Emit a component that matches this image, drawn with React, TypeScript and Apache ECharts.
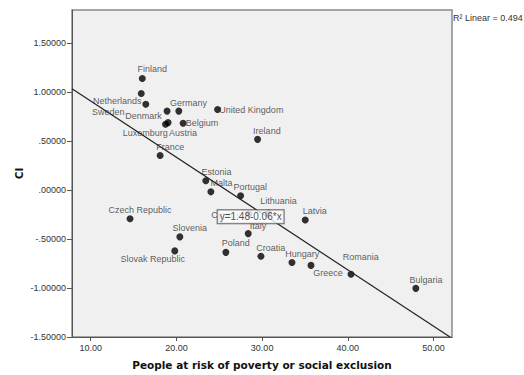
import React, { useEffect, useRef } from "react";
import * as echarts from "echarts";

// Countries: share of people at risk of poverty or social exclusion (x) vs CI (y)
const countries = [
  "Finland", "Sweden", "Netherlands", "Denmark", "Germany", "Luxemburg", "Austria",
  "Belgium", "United Kingdom", "Ireland", "France", "Estonia", "Malta", "Portugal",
  "Lithuania", "Cyprus", "Italy", "Latvia", "Czech Republic", "Slovenia",
  "Slovak Republic", "Poland", "Croatia", "Hungary", "Greece", "Romania", "Bulgaria",
];
const povertyRisk = [
  16.02, 15.9, 16.43, 18.91, 20.28, 18.73, 19.03,
  20.78, 24.8, 29.47, 18.1, 23.43, 24.02, 27.49,
  30.74, 28.46, 28.38, 35.03, 14.59, 20.4,
  19.81, 25.77, 29.86, 33.48, 35.7, 40.37, 47.93,
];
const ciValues = [
  1.136, 0.982, 0.873, 0.803, 0.803, 0.669, 0.686,
  0.679, 0.819, 0.515, 0.351, 0.093, -0.02, -0.06,
  -0.235, -0.245, -0.446, -0.308, -0.295, -0.479,
  -0.622, -0.637, -0.677, -0.74, -0.77, -0.86, -1.004,
];

// Linear fit
const INTERCEPT = 1.48;
const SLOPE = -0.0574;
const R_SQUARED = 0.494;

// Axis ranges and tick values
const X_MIN = 7.82;
const X_MAX = 52.15;
const Y_MIN = -1.5;
const Y_MAX = 1.834;
const xTicks = [10, 20, 30, 40, 50];
const yTicks = [-1.5, -1.0, -0.5, 0, 0.5, 1.0, 1.5];

// Where the fit equation box sits, in data coordinates
const EQUATION_AT = [28.66, -0.275];

// Label offsets (px, from the point centre to the label centre)
const labelOffsets: Record<string, [number, number]> = {
  Finland: [10, -9.5],
  Sweden: [-33, 18],
  Netherlands: [-28.5, -3],
  Denmark: [-23.5, 5],
  Germany: [9.7, -8.3],
  Luxemburg: [-20.2, 8.3],
  Austria: [15, 10],
  Belgium: [19, -0.7],
  "United Kingdom": [33.8, 0],
  Ireland: [9.3, -8.7],
  France: [10.2, -8.3],
  Estonia: [10.7, -8.3],
  Malta: [10.7, -8.6],
  Portugal: [9.6, -8.3],
  Lithuania: [10, -12.4],
  Cyprus: [-23.5, 1],
  Italy: [9.7, -7.4],
  Latvia: [9.5, -9],
  "Czech Republic": [10, -8.7],
  Slovenia: [10, -8.7],
  "Slovak Republic": [-22, 8],
  Poland: [10, -9],
  Croatia: [9.8, -8],
  Hungary: [10.3, -8],
  Greece: [17, 8],
  Romania: [9.8, -17],
  Bulgaria: [10.1, -8.3],
};

const fmtY = (v: number) =>
  v.toFixed(5).replace(/^0\./, ".").replace(/^-0\./, "-.");

export default function App() {
  const ref = useRef<HTMLDivElement>(null);

  useEffect(() => {
    if (!ref.current) return;
    const chart = echarts.init(ref.current, undefined, { renderer: "svg" });

    const fit = (x: number) => INTERCEPT + SLOPE * x;
    const xEnd = Math.min(X_MAX, (INTERCEPT - Y_MIN) / -SLOPE);
    const fitLine = [
      [X_MIN, fit(X_MIN)],
      [xEnd, fit(xEnd)],
    ];

    const points = countries.map((name, i) => ({
      name,
      value: [povertyRisk[i], ciValues[i]],
      label: { offset: labelOffsets[name] || [10, -8.5] },
    }));

    const sansFont = "Liberation Sans, Arial, sans-serif";
    const titleFont = "DejaVu Sans, Verdana, sans-serif";

    chart.setOption({
      animation: false,
      backgroundColor: "#ffffff",
      grid: {
        left: 72,
        right: 72,
        top: 10,
        bottom: 33,
        show: true,
        backgroundColor: "#f0f0f0",
        borderColor: "#8a8a8a",
        borderWidth: 1.5,
      },
      xAxis: {
        type: "value",
        min: X_MIN,
        max: X_MAX,
        name: "People at risk of poverty or social exclusion",
        nameLocation: "middle",
        nameGap: 22,
        nameMoveOverlap: false,
        nameTextStyle: {
          fontFamily: titleFont,
          fontWeight: "bold",
          fontSize: 10.5,
          color: "#111",
        },
        splitLine: { show: false },
        axisLine: { onZero: false, lineStyle: { color: "#555", width: 1 } },
        axisTick: {
          length: 4,
          customValues: xTicks,
          lineStyle: { color: "#555" },
        },
        axisLabel: {
          customValues: xTicks,
          formatter: (v: number) => v.toFixed(2),
          fontFamily: sansFont,
          fontSize: 9,
          color: "#333",
          margin: 6,
        },
      },
      yAxis: {
        type: "value",
        min: Y_MIN,
        max: Y_MAX,
        name: "CI",
        nameLocation: "middle",
        nameGap: 48,
        nameMoveOverlap: false,
        nameTextStyle: {
          fontFamily: titleFont,
          fontWeight: "bold",
          fontSize: 10.5,
          color: "#111",
        },
        splitLine: { show: false },
        axisLine: { onZero: false, lineStyle: { color: "#555", width: 1 } },
        axisTick: {
          length: 5,
          customValues: yTicks,
          lineStyle: { color: "#555" },
        },
        axisLabel: {
          customValues: yTicks,
          formatter: (v: number) => fmtY(v),
          fontFamily: sansFont,
          fontSize: 9,
          color: "#333",
          margin: 6,
        },
      },
      series: [
        {
          type: "scatter",
          z: 2,
          symbolSize: 7,
          itemStyle: { color: "#000" },
          data: points,
          label: {
            show: true,
            position: "inside",
            align: "center",
            verticalAlign: "middle",
            formatter: "{b}",
            fontFamily: sansFont,
            fontSize: 9,
            color: "#333",
          },
        },
        {
          type: "line",
          z: 3,
          data: fitLine,
          symbol: "none",
          lineStyle: { color: "#222", width: 1.2 },
        },
        {
          type: "scatter",
          z: 10,
          symbolSize: 0,
          data: [EQUATION_AT],
          label: {
            show: true,
            position: "inside",
            formatter: () =>
              `y=${INTERCEPT.toFixed(2)}-${Math.abs(SLOPE).toFixed(2)}*x`,
            fontFamily: sansFont,
            fontSize: 10,
            color: "#222",
            backgroundColor: "#ffffff",
            borderColor: "#444",
            borderWidth: 1,
            padding: [2, 2, 1, 2],
          },
        },
      ],
      graphic: [
        {
          type: "text",
          left: 453,
          top: 13,
          style: {
            text: `R² Linear = ${R_SQUARED.toFixed(3)}`,
            font: `9px ${sansFont}`,
            fill: "#333",
          },
        },
      ],
    });

    return () => chart.dispose();
  }, []);

  return (
    <div
      ref={ref}
      style={{ position: "fixed", left: 0, top: 0, width: 524, height: 375 }}
    />
  );
}
